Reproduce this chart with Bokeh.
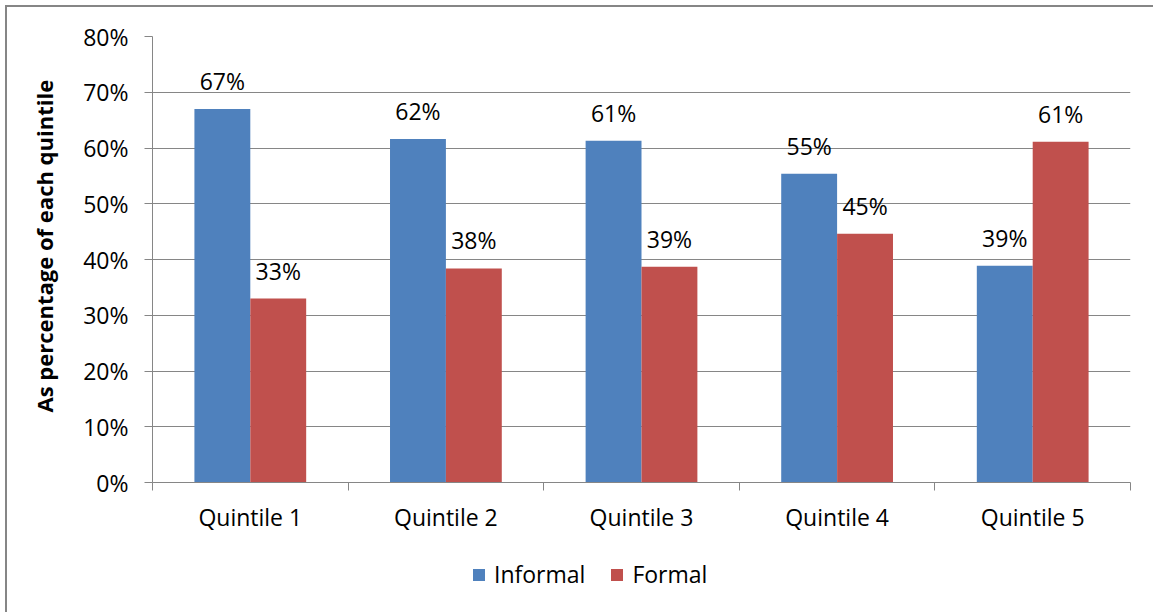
from bokeh.plotting import figure
from bokeh.layouts import column
from bokeh.models import (ColumnDataSource, FixedTicker, Legend, LegendItem,
                          Title, Range1d)
from bokeh.transform import dodge
from bokeh.core.properties import value
from bokeh.embed import file_html
from bokeh.resources import INLINE

# Share of each income quintile by employment type (percent)
quintiles = ["Quintile 1", "Quintile 2", "Quintile 3", "Quintile 4", "Quintile 5"]
informal = [67.0, 61.6, 61.3, 55.4, 38.9]
formal = [33.0, 38.4, 38.7, 44.6, 61.1]
series_names = ["Informal", "Formal"]
series_colors = ["#4F81BD", "#C0504D"]
y_ticks = [0, 10, 20, 30, 40, 50, 60, 70, 80]
y_tick_labels = ["0%", "10%", "20%", "30%", "40%", "50%", "60%", "70%", "80%"]

FONT = "Open Sans"
GRID = "#868686"
TOTAL_W = 1146

centers = [i + 0.5 for i in range(len(quintiles))]
bounds = [float(i) for i in range(len(quintiles) + 1)]

src = ColumnDataSource(dict(
    x=centers,
    informal=informal,
    formal=formal,
    informal_label=[f"{v:.0f}%" for v in informal],
    formal_label=[f"{v:.0f}%" for v in formal],
))

p = figure(
    frame_width=978, frame_height=446,
    x_range=Range1d(0, len(quintiles)), y_range=Range1d(y_ticks[0], y_ticks[-1]),
    output_backend="svg", toolbar_location=None,
    min_border_left=145, min_border_top=29, min_border_right=23, min_border_bottom=60,
)
p.outline_line_color = None
p.background_fill_color = "white"
p.border_fill_color = "white"

# bars: two series per quintile, gap width 150% of a bar
bar_w = 1 / 3.5
half = bar_w / 2
bar_kw = dict(width=bar_w, source=src, line_color=None)
p.vbar(x=dodge("x", -half, range=p.x_range), top="informal",
       fill_color=series_colors[0], **bar_kw)
p.vbar(x=dodge("x", half, range=p.x_range), top="formal",
       fill_color=series_colors[1], **bar_kw)

label_kw = dict(text_align="center", text_baseline="alphabetic", y_offset=-28,
                text_font=value(FONT), text_font_size="23px", text_color="black",
                source=src)
p.text(x=dodge("x", -half, range=p.x_range), y="informal", text="informal_label", **label_kw)
p.text(x=dodge("x", half, range=p.x_range), y="formal", text="formal_label", **label_kw)

# x axis: tick marks between categories, labels under category centres
xa = p.xaxis[0]
xa.ticker = FixedTicker(ticks=centers, minor_ticks=bounds)
xa.major_label_overrides = {c: q for c, q in zip(centers, quintiles)}
xa.major_tick_out = 0
xa.major_tick_in = 0
xa.minor_tick_out = 8
xa.minor_tick_in = 0
xa.minor_tick_line_color = GRID
xa.axis_line_color = GRID
xa.major_label_standoff = 10
xa.major_label_text_font = FONT
xa.major_label_text_font_size = "23px"
xa.major_label_text_color = "black"

ya = p.yaxis[0]
ya.ticker = FixedTicker(ticks=y_ticks, minor_ticks=[])
ya.major_label_overrides = {t: s for t, s in zip(y_ticks, y_tick_labels)}
ya.major_tick_out = 8
ya.major_tick_in = 0
ya.major_tick_line_color = GRID
ya.axis_line_color = GRID
ya.major_label_standoff = 16
ya.major_label_text_font = FONT
ya.major_label_text_font_size = "23px"
ya.major_label_text_color = "black"

p.xgrid.grid_line_color = None
p.ygrid.ticker = FixedTicker(ticks=y_ticks)
p.ygrid.grid_line_color = GRID
p.ygrid.grid_line_width = 1

ytitle = Title(text="As percentage of each quintile", text_font=FONT,
               text_font_size="22px", text_font_style="bold", text_color="black",
               align="left", vertical_align="top", offset=70, standoff=40)
p.add_layout(ytitle, "left")

# legend strip under the chart; its series share the chart's data but the
# y window sits above every bar, so only the legend keys show
leg = figure(width=TOTAL_W, height=70, x_range=p.x_range, y_range=Range1d(100, 101),
             output_backend="svg", toolbar_location=None,
             x_axis_location=None, y_axis_location=None,
             min_border_left=0, min_border_right=0, min_border_top=0, min_border_bottom=0)
leg.grid.visible = False
leg.outline_line_color = None
leg.background_fill_color = "white"
leg.border_fill_color = "white"
k_inf = leg.vbar(x=dodge("x", -half, range=leg.x_range), top="informal",
                 fill_color=series_colors[0], **bar_kw)
k_for = leg.vbar(x=dodge("x", half, range=leg.x_range), top="formal",
                 fill_color=series_colors[1], **bar_kw)

legend = Legend(
    items=[LegendItem(label=series_names[0], renderers=[k_inf]),
           LegendItem(label=series_names[1], renderers=[k_for])],
    location=(319, 22), orientation="horizontal",
    glyph_width=15, glyph_height=15, label_standoff=8, spacing=24,
    padding=0, margin=0, border_line_color=None, background_fill_alpha=0,
    label_text_font=FONT, label_text_font_size="23px", label_text_color="black",
)
leg.add_layout(legend)

layout = column(p, leg, spacing=0)
layout.styles = {"margin-left": "5px", "margin-top": "5px",
                 "border-left": "2px solid #868686", "border-top": "2px solid #868686"}

open("out.html", "w").write(file_html(layout, INLINE))
